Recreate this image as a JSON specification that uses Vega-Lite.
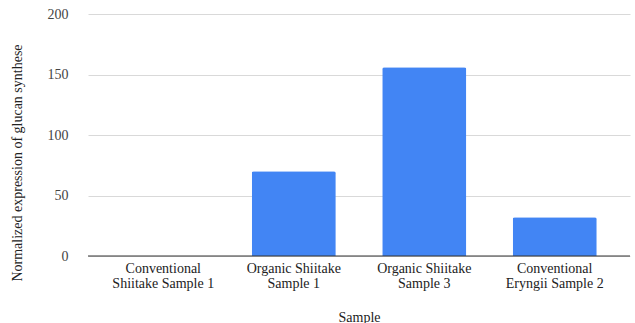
{
  "$schema": "https://vega.github.io/schema/vega-lite/v6.json",
  "autosize": "none",
  "width": 542,
  "height": 242,
  "padding": {"left": 88, "top": 14, "right": 5, "bottom": 67},
  "config": {"view": {"stroke": null}, "font": "Liberation Serif"},
  "data": {"values": [
    {"sample": "Conventional Shiitake Sample 1", "value": 0},
    {"sample": "Organic Shiitake Sample 1", "value": 70},
    {"sample": "Organic Shiitake Sample 3", "value": 156},
    {"sample": "Conventional Eryngii Sample 2", "value": 32}
  ]},
  "layer": [
    {
      "mark": {"type": "bar", "color": "#4285F4", "cornerRadiusTopLeft": 2, "cornerRadiusTopRight": 2},
      "encoding": {
        "x": {"field": "sample", "type": "nominal", "sort": null,
          "scale": {"paddingInner": 0.356, "paddingOuter": 0.255},
          "axis": {"title": "Sample", "labelAngle": 0, "domain": false, "ticks": false,
            "labelFont": "Liberation Serif", "labelFontSize": 14, "labelColor": "#222", "labelPadding": 5, "labelLineHeight": 15,
            "labelExpr": "datum.value == 'Conventional Shiitake Sample 1' ? ['Conventional', 'Shiitake Sample 1'] : datum.value == 'Organic Shiitake Sample 1' ? ['Organic Shiitake', 'Sample 1'] : datum.value == 'Organic Shiitake Sample 3' ? ['Organic Shiitake', 'Sample 3'] : ['Conventional', 'Eryngii Sample 2']",
            "titleFont": "Liberation Serif", "titleFontSize": 14, "titleFontWeight": "normal", "titleColor": "#222",
            "titleY": 61, "titleBaseline": "middle"}},
        "y": {"field": "value", "type": "quantitative",
          "scale": {"domain": [0, 200]},
          "axis": {"title": "Normalized expression of glucan synthese", "values": [0, 50, 100, 150, 200],
            "domain": false, "ticks": false, "gridColor": "#d9d9d9",
            "labelFont": "Liberation Serif", "labelFontSize": 14, "labelColor": "#444", "labelPadding": 20,
            "titleFont": "Liberation Serif", "titleFontSize": 14, "titleFontWeight": "normal", "titleColor": "#222",
            "titleX": -71, "titleY": 148.5, "titleAnchor": null, "titleAlign": "center", "titleBaseline": "middle"}}
      }
    },
    {
      "data": {"values": [{"y": 0}]},
      "mark": {"type": "rule", "color": "#333", "strokeWidth": 1},
      "encoding": {"y": {"field": "y", "type": "quantitative"}}
    }
  ]
}
